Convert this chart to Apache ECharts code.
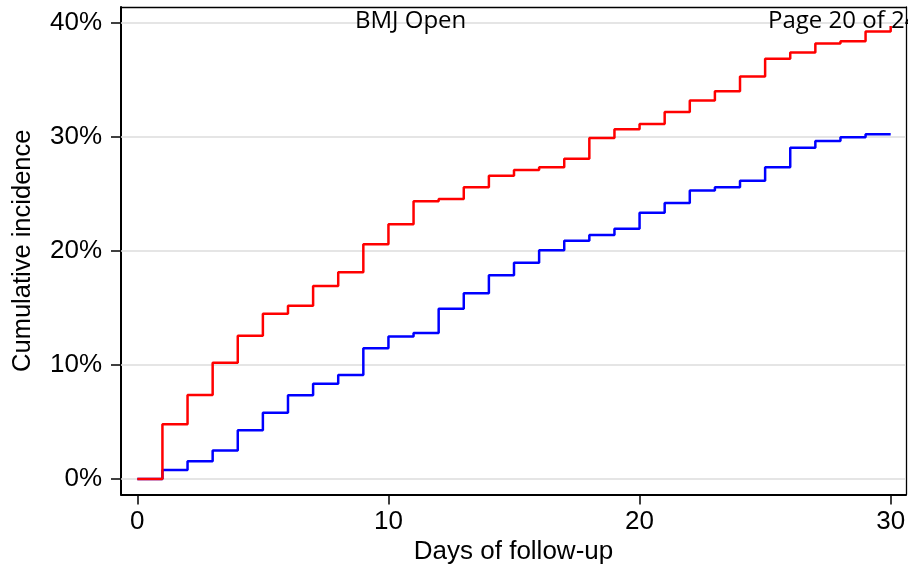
<!DOCTYPE html>
<html><head><meta charset="utf-8">
<script src="https://cdn.jsdelivr.net/npm/echarts@6/dist/echarts.min.js"></script>
<style>html,body{margin:0;padding:0;background:#fff}#c{width:908px;height:565px}</style>
</head><body><div id="c"></div>
<script>
var days = [0,1,2,3,4,5,6,7,8,9,10,11,12,13,14,15,16,17,18,19,20,21,22,23,24,25,26,27,28,29,30];
var redSeries = [0,4.8,7.37,10.2,12.57,14.5,15.2,16.93,18.13,20.6,22.34,24.36,24.56,25.6,26.6,27.1,27.34,28.1,29.9,30.67,31.14,32.19,33.2,34.0,35.3,36.87,37.4,38.2,38.4,39.25,39.74];
var blueSeries = [0,0.79,1.55,2.5,4.27,5.82,7.34,8.36,9.12,11.46,12.49,12.8,14.94,16.29,17.88,18.97,20.06,20.9,21.4,21.96,23.36,24.2,25.3,25.6,26.17,27.34,29.06,29.65,29.97,30.23,30.23];
var yTicks = [0,10,20,30,40];
var xTicks = [0,10,20,30];
var yTickLabels = ['0%','10%','20%','30%','40%'];
var xTitle = 'Days of follow-up';
var yTitle = 'Cumulative incidence';
var headerLeft = 'BMJ Open';
var headerRight = 'Page 20 of 24';

function pairs(xs, ys){ return xs.map(function(x,i){ return [x, ys[i]]; }); }

var chart = echarts.init(document.getElementById('c'), null, {renderer:'canvas'});
var font = 'Liberation Sans, Arial, sans-serif';
chart.setOption({
  animation:false,
  grid:{left:121, right:2, top:7, bottom:70.5, containLabel:false, outerBoundsMode:'none'},
  xAxis:[{
    type:'value', min:-0.65, max:30.61,
    axisLine:{show:true, onZero:false, lineStyle:{color:'#000', width:2}},
    axisTick:{show:true, customValues:xTicks, length:10, lineStyle:{color:'#000', width:1.5}},
    axisLabel:{customValues:xTicks, color:'#000', fontSize:26, fontFamily:font, margin:14},
    splitLine:{show:false},
    name:xTitle, nameLocation:'middle', nameGap:44, nameMoveOverlap:false,
    nameTextStyle:{color:'#000', fontSize:26, fontFamily:font}
  },{
    type:'value', position:'top', min:-0.65, max:30.61,
    axisLine:{show:true, onZero:false, lineStyle:{color:'#000', width:1.3}},
    axisTick:{show:false}, axisLabel:{show:false}, splitLine:{show:false}
  }],
  yAxis:[{
    type:'value', min:-1.36, max:41.40,
    axisLine:{show:true, onZero:false, lineStyle:{color:'#000', width:2}},
    axisTick:{show:true, customValues:yTicks, length:10, lineStyle:{color:'#000', width:1.5}},
    axisLabel:{customValues:yTicks, color:'#000', fontSize:26, fontFamily:font, margin:19,
      formatter:function(v){ var i = yTicks.indexOf(Math.round(v)); return i>=0 ? yTickLabels[i] : ''; }},
    splitLine:{show:false},
    name:yTitle, nameLocation:'middle', nameGap:85, nameRotate:90, nameMoveOverlap:false,
    nameTextStyle:{color:'#000', fontSize:25.5, fontFamily:font}
  },{
    type:'value', position:'right', min:-1.36, max:41.40,
    axisLine:{show:true, onZero:false, lineStyle:{color:'#000', width:1.3}},
    axisTick:{show:false}, axisLabel:{show:false}, splitLine:{show:false}
  }],
  series:[{
    type:'line', step:'end', data:pairs(days, blueSeries), showSymbol:false,
    lineStyle:{color:'#0000ff', width:2.5}, z:3,
    markLine:{silent:true, symbol:['none','none'], label:{show:false},
      lineStyle:{color:'#dcdcdc', width:1.5, type:'solid'},
      data:yTicks.map(function(t){ return {yAxis:t}; }), z:1}
  },{
    type:'line', step:'end', data:pairs(days, redSeries), showSymbol:false,
    lineStyle:{color:'#ff0000', width:2.5}, z:4
  }],
  graphic:[
    {type:'text', left:355, top:9, z:100, style:{text:headerLeft, font:'24px "Open Sans", sans-serif', fill:'#000'}},
    {type:'text', left:768, top:9, z:100, style:{text:headerRight, font:'24px "Open Sans", sans-serif', fill:'#000'}}
  ]
});
</script></body></html>
